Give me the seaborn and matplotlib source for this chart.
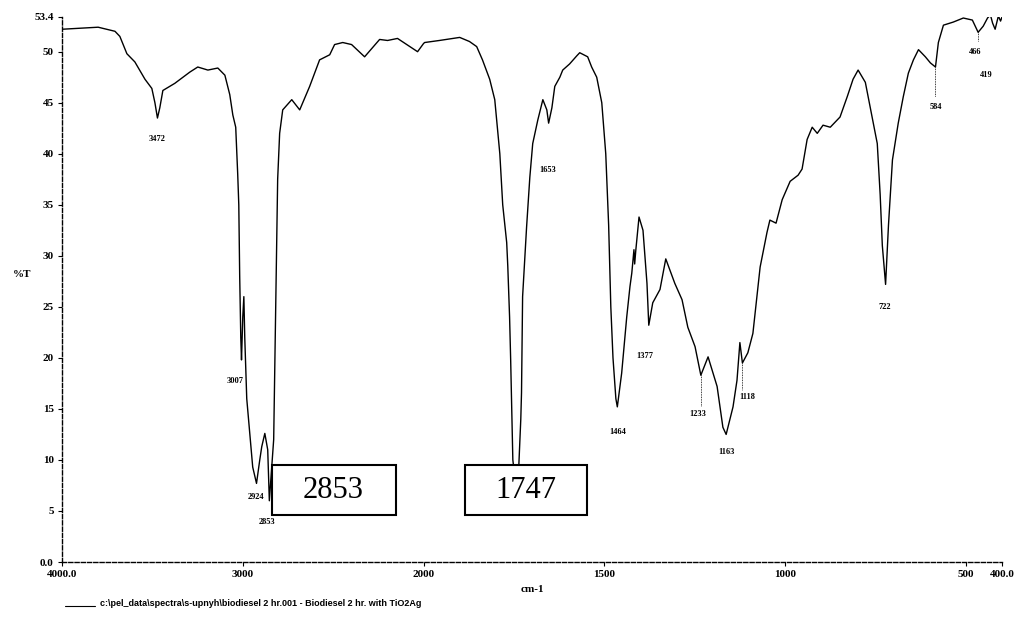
import numpy as np
import pandas as pd
import matplotlib
matplotlib.use("Agg")
import matplotlib.pyplot as plt
from matplotlib.patches import Rectangle
import seaborn as sns

# ---- data ----
wavenumber = [4000, 3900, 3800, 3707, 3680, 3641, 3597, 3541, 3503, 3486, 3472, 3459,
              3442, 3376, 3293, 3249, 3193, 3138, 3099, 3072, 3055, 3039, 3028, 3022,
              3017, 3011, 3007, 3000, 2994, 2989, 2978, 2961, 2945, 2924, 2906, 2895,
              2878, 2862, 2853, 2829, 2818, 2807, 2796, 2779, 2729, 2685, 2630, 2575,
              2519, 2492, 2447, 2398, 2326, 2243, 2199, 2144, 2033, 2000, 1997, 1956,
              1900, 1873, 1853, 1837, 1817, 1803, 1789, 1781, 1770, 1767, 1762, 1759,
              1756, 1753, 1747, 1737, 1731, 1729, 1726, 1715, 1706, 1698, 1684, 1670,
              1659, 1654, 1645, 1637, 1623, 1615, 1596, 1576, 1568, 1546, 1535, 1521,
              1507, 1496, 1488, 1482, 1476, 1468, 1464, 1452, 1438, 1429, 1424, 1418,
              1416, 1413, 1404, 1393, 1382, 1377, 1366, 1346, 1330, 1305, 1285, 1269,
              1249, 1233, 1213, 1188, 1172, 1163, 1144, 1133, 1125, 1118, 1103, 1089,
              1069, 1050, 1042, 1025, 1008, 986, 964, 953, 939, 925, 911, 895, 875,
              848, 828, 812, 798, 778, 756, 745, 737, 731, 722, 714, 703, 687, 673,
              659, 645, 631, 612, 598, 584, 576, 562, 535, 507, 482, 474, 466, 452,
              440, 432, 426, 419, 410, 404, 400]
transmittance = [52.2, 52.3, 52.4, 52.0, 51.5, 49.8, 49.0, 47.3, 46.4, 45.0, 43.5, 44.5,
                 46.2, 46.9, 48.0, 48.5, 48.2, 48.4, 47.7, 45.8, 43.8, 42.6, 38.0, 35.0,
                 28.0, 22.0, 19.8, 24.0, 26.0, 22.0, 16.0, 12.5, 9.3, 7.7, 10.0, 11.3,
                 12.6, 11.0, 6.0, 12.0, 25.0, 37.5, 42.0, 44.3, 45.3, 44.3, 46.6, 49.2,
                 49.7, 50.7, 50.9, 50.7, 49.5, 51.2, 51.1, 51.3, 50.0, 50.8, 50.9, 51.1,
                 51.4, 51.0, 50.5, 49.2, 47.3, 45.3, 40.0, 35.0, 31.3, 29.0, 24.0, 19.8,
                 14.9, 10.0, 8.2, 9.0, 14.0, 16.6, 26.0, 32.8, 37.7, 41.0, 43.3, 45.3,
                 44.3, 43.0, 44.5, 46.6, 47.5, 48.2, 48.8, 49.6, 49.9, 49.5, 48.5, 47.5,
                 45.0, 40.0, 33.0, 25.0, 20.0, 16.0, 15.2, 18.5, 24.0, 27.0, 28.3, 30.6,
                 29.2, 30.5, 33.8, 32.5, 27.3, 23.2, 25.4, 26.7, 29.7, 27.3, 25.7, 23.0,
                 21.1, 18.3, 20.1, 17.2, 13.2, 12.5, 15.2, 17.8, 21.5, 19.5, 20.5, 22.4,
                 28.9, 32.3, 33.5, 33.2, 35.5, 37.3, 37.9, 38.5, 41.4, 42.6, 42.0, 42.8, 42.6,
                 43.6, 45.6, 47.3, 48.2, 47.0, 43.0, 41.0, 36.0, 31.0, 27.2, 33.0, 39.4, 43.0, 45.6,
                 47.9, 49.2, 50.2, 49.5, 48.9, 48.5, 50.9, 52.6, 52.9, 53.3, 53.1, 52.5, 51.9, 52.5,
                 53.3, 53.6, 52.8, 52.2, 53.5, 53.0, 53.4]

peak_labels = ["3472", "3007", "2924", "2853", "1653", "1464", "1377", "1233",
               "1163", "1118", "722", "584", "466", "419"]
peak_label_x = [3472, 3040, 2928, 2867, 1657, 1463, 1388, 1241, 1161, 1105, 723, 584, 473, 445]
peak_label_y = [41.4, 17.7, 6.4, 3.9, 38.4, 12.7, 20.2, 14.5, 10.8, 16.2, 25.0, 44.6, 50.0, 47.7]

boxed_labels = ["2853", "1747"]

xtick_vals = [4000, 3000, 2000, 1500, 1000, 500, 400]
xtick_text = ["4000.0", "3000", "2000", "1500", "1000", "500", "400.0"]
ytick_vals = [0, 5, 10, 15, 20, 25, 30, 35, 40, 45, 50, 53.4]
ytick_text = ["0.0", "5", "10", "15", "20", "25", "30", "35", "40", "45", "50", "53.4"]

df = pd.DataFrame({"wn": wavenumber, "T": transmittance})

sns.set_style("white")
plt.rcParams["font.family"] = ["Liberation Serif", "DejaVu Serif"]
plt.rcParams["text.color"] = "black"
plt.rcParams["axes.labelcolor"] = "black"
plt.rcParams["xtick.color"] = "black"
plt.rcParams["ytick.color"] = "black"

fig = plt.figure(figsize=(10.23, 6.19), dpi=100)
ax = fig.add_axes([62 / 1023, 1 - 562 / 619, (1002 - 62) / 1023, (562 - 17) / 619])


def fwd(x):
    x = np.asarray(x, dtype=float)
    return np.where(x <= 2000, 2 * x, x + 2000)


def inv(u):
    u = np.asarray(u, dtype=float)
    return np.where(u <= 4000, u / 2, u - 2000)


sns.lineplot(data=df, x="wn", y="T", sort=False, estimator=None, color="black",
             linewidth=1.0, ax=ax)
ax.set_xscale("function", functions=(fwd, inv))
ax.set_xlim(4000, 400)
ax.set_ylim(0, 53.4)

ax.set_xticks(xtick_vals)
ax.set_xticklabels(xtick_text, fontsize=8, fontweight="bold")
ax.set_yticks(ytick_vals)
ax.set_yticklabels(ytick_text, fontsize=8, fontweight="bold")
ax.tick_params(axis="both", length=3, width=0.8, direction="out", pad=3, colors="black")
ax.xaxis.set_ticks_position("bottom")
ax.yaxis.set_ticks_position("left")

for s in ["top", "right"]:
    ax.spines[s].set_visible(False)
for s in ["left", "bottom"]:
    ax.spines[s].set_color("black")
    ax.spines[s].set_linewidth(1.0)
    ax.spines[s].set_linestyle((0, (3, 1.5)))

ax.set_xlabel("cm-1", fontsize=8, fontweight="bold", labelpad=4)
ax.set_ylabel("%T", fontsize=8, fontweight="bold", rotation=0, labelpad=18)
ax.yaxis.set_label_coords(-0.042, 0.52)

for t, x, y in zip(peak_labels, peak_label_x, peak_label_y):
    ax.text(x, y, t, fontsize=6, fontweight="bold", ha="center", va="center")

# thin marker lines from dips to their labels
for x0, y0, y1 in [(584, 48.5, 45.6), (466, 51.9, 51.0), (1233, 18.3, 15.3), (1118, 19.5, 16.9)]:
    ax.plot([x0, x0], [y0, y1], color="black", linewidth=0.6, linestyle=(0, (1, 1)))

# boxed annotations
for lab, (x_left, x_right) in zip(boxed_labels, [(2840, 2155), (1884, 1548)]):
    ax.add_patch(Rectangle((x_left, 4.6), x_right - x_left, 4.9, facecolor="white",
                           edgecolor="black", linewidth=1.5, zorder=5))
    xc = inv((fwd(x_left) + fwd(x_right)) / 2)
    ax.text(float(xc), 7.0, lab, fontsize=22, ha="center", va="center", zorder=6,
            color="black", family=["Liberation Serif"])

# footer legend line and file path
fig.lines.append(plt.Line2D([65 / 1023, 95 / 1023], [1 - 606 / 619] * 2,
                            color="black", linewidth=0.8, transform=fig.transFigure))
fig.text(100 / 1023, 1 - 604 / 619,
         r"c:\pel_data\spectra\s-upnyh\biodiesel 2 hr.001 - Biodiesel 2 hr. with TiO2Ag",
         fontsize=6.5, fontweight="bold", va="center", ha="left",
         family=["Liberation Sans", "DejaVu Sans"])

fig.savefig("out.png", dpi=100)
